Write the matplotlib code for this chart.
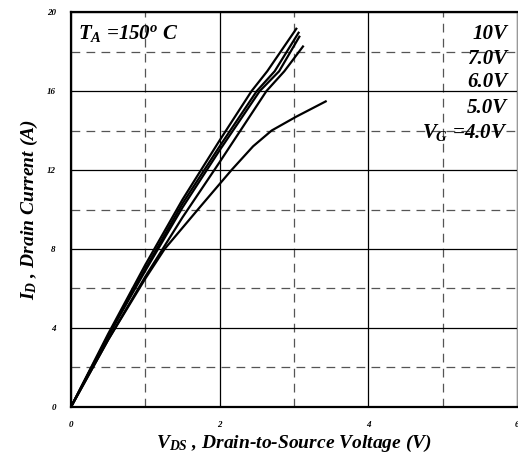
import matplotlib
matplotlib.use("Agg")
from matplotlib import pyplot as plt

plt.rcParams['font.family'] = ['Liberation Serif', 'DejaVu Serif']
plt.rcParams['font.weight'] = 'bold'
plt.rcParams['font.style'] = 'italic'
plt.rcParams['axes.labelweight'] = 'bold'
plt.rcParams['mathtext.fontset'] = 'custom'
plt.rcParams['mathtext.rm'] = 'Liberation Serif:bold:italic'
plt.rcParams['mathtext.it'] = 'Liberation Serif:bold:italic'
plt.rcParams['mathtext.bf'] = 'Liberation Serif:bold:italic'

# output curves (VDS in V, ID in A)
vds_10 = [0, 0.5, 1.0, 1.5, 2.0, 2.43, 2.64, 3.04]
id_10 = [0, 3.7, 7.2, 10.5, 13.5, 16.0, 17.0, 19.2]
vds_7 = [0, 0.5, 1.0, 1.5, 2.0, 2.50, 2.74, 3.07]
id_7 = [0, 3.6, 7.0, 10.3, 13.2, 16.0, 17.0, 19.0]
vds_6 = [0, 0.5, 1.0, 1.5, 2.0, 2.54, 2.80, 3.08]
id_6 = [0, 3.6, 6.9, 10.1, 13.0, 16.0, 17.0, 18.8]
vds_5 = [0, 0.5, 1.0, 1.5, 2.0, 2.63, 2.87, 3.13]
id_5 = [0, 3.4, 6.6, 9.6, 12.4, 16.0, 17.0, 18.3]
vds_4 = [0, 0.5, 1.0, 1.26, 1.73, 2.16, 2.45, 2.70, 3.03, 3.44]
id_4 = [0, 3.4, 6.5, 8.0, 10.1, 12.0, 13.2, 14.0, 14.7, 15.5]

curve_labels = ["10V", "7.0V", "6.0V", "5.0V", r"$V_G$ =4.0V"]
label_y = [18.9, 17.6, 16.45, 15.15, 13.9]

x_ticks = [0, 2, 4, 6]
y_ticks = [0, 4, 8, 12, 16, 20]
x_minor = [1, 3, 5]
y_minor = [2, 6, 10, 14, 18]

fig = plt.figure(figsize=(5.18, 4.63), dpi=100)
ax = fig.add_axes([0.137, 0.121, 0.861, 0.853])

for xs, ys in [(vds_10, id_10), (vds_7, id_7), (vds_6, id_6), (vds_5, id_5), (vds_4, id_4)]:
    ax.plot(xs, ys, color="black", lw=1.6, solid_capstyle="butt")

ax.set_xlim(0, 6)
ax.set_ylim(0, 20)
ax.set_xticks(x_ticks)
ax.set_yticks(y_ticks)
ax.set_xticks(x_minor, minor=True)
ax.set_yticks(y_minor, minor=True)
ax.grid(True, which="major", color="black", lw=0.9, ls="-")
ax.grid(True, which="minor", color="#555555", lw=0.9, ls=(0, (7, 5)))
ax.set_axisbelow(True)
ax.tick_params(which="both", length=0)
ax.tick_params(axis="x", pad=10, labelsize=6.5)
ax.tick_params(axis="y", pad=11, labelsize=6.5)

for s in ["left", "bottom", "top"]:
    ax.spines[s].set_linewidth(1.6)
ax.spines["right"].set_color("#999999")
ax.spines["right"].set_linewidth(0.8)

ax.text(0.1, 18.9, r"$T_A$ =150$^o$ C", fontsize=15, va="center", ha="left")
for lab, yy in zip(curve_labels, label_y):
    ax.text(5.87, yy, lab, fontsize=15, va="center", ha="right")

ax.set_xlabel(r"$V_{DS}$ , Drain-to-Source Voltage (V)", fontsize=14, labelpad=3)
ax.set_ylabel(r"$I_D$ , Drain Current (A)", fontsize=14, labelpad=5)

fig.savefig("out.png", dpi=100)
